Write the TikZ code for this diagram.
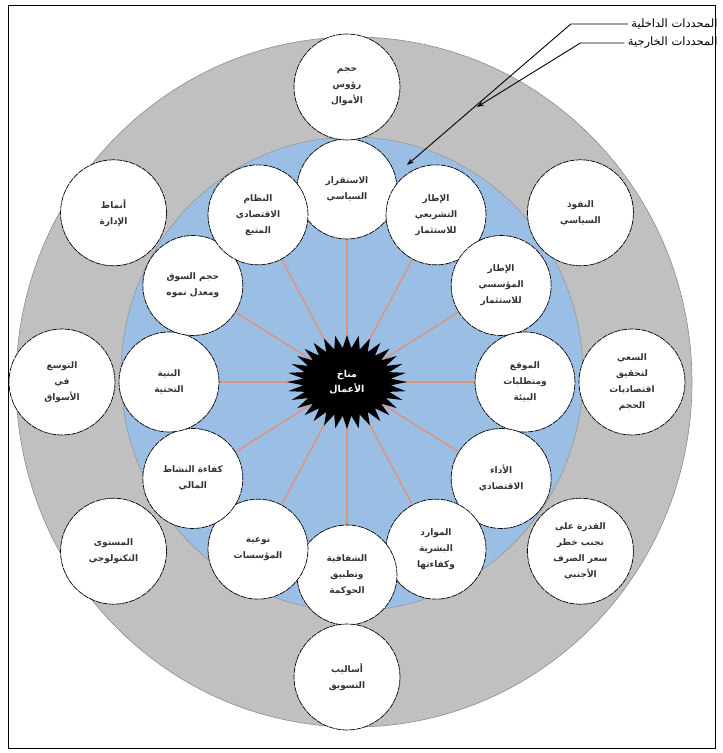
\documentclass[tikz,border=0pt]{standalone}
\usepackage{fontspec}
\newfontfamily\arabicfont[Script=Arabic]{DejaVu Sans}
\TeXXeTstate=1
\usetikzlibrary{arrows.meta,backgrounds}
\newcommand\AR[1]{\beginR #1\endR}
\definecolor{ringgray}{RGB}{192,192,192}
\definecolor{ringblue}{RGB}{155,190,228}
\definecolor{spokecol}{RGB}{226,146,122}
\tikzset{
  factor/.style={circle,draw=black,line width=0.7pt,dash pattern=on 6pt off 0.8pt,
    fill=white,minimum size=100,inner sep=0pt,align=center,text=black!80,
    font={\arabicfont\bfseries\fontsize{9}{16}\selectfont}},
  outfactor/.style={factor,minimum size=106},
  spokeline/.style={draw=spokecol,line width=1.4pt},
  leader/.style={line width=0.9pt,-{Stealth[length=7pt,width=5pt]}}
}

\begin{document}
\begin{tikzpicture}[x=1pt,y=1pt] % investment climate rings

\useasboundingbox (-347,382) rectangle (376,-371);
\def\Rx{178} % inner ring, x radius
\def\Ry{193} % inner ring, y radius
\def\Ox{285} % outer ring
\def\Oy{295}

\begin{scope}[on background layer]
\filldraw[fill=ringgray,draw=black!45,line width=0.6pt] (7,0) ellipse [x radius=338,y radius=345];
\filldraw[fill=ringblue,draw=black!40,line width=0.6pt] (5,8) ellipse [x radius=231,y radius=237];
\end{scope}

% star in the middle
\fill[black] plot[samples at={0,...,63},variable=\k]
  ({cos(\k*5.625)*ifthenelse(mod(\k,2)==0,60,44)},{sin(\k*5.625)*ifthenelse(mod(\k,2)==0,47,34)}) -- cycle;
\node[text=white,align=center,font={\arabicfont\bfseries\fontsize{9.5}{15}\selectfont}] (clim) at (0,0)
  {\AR{مناخ}\\\AR{الأعمال}};

% inner factors
\foreach \a/\t [count=\i] in {
  90/{\AR{الاستقرار}\\\AR{السياسي}},
  60/{\AR{الإطار}\\\AR{التشريعي}\\\AR{للاستثمار}},
  30/{\AR{الإطار}\\\AR{المؤسسي}\\\AR{للاستثمار}},
  0/{\AR{الموقع}\\\AR{ومتطلبات}\\\AR{البيئة}},
  -30/{\AR{الأداء}\\\AR{الاقتصادي}},
  -60/{\AR{الموارد}\\\AR{البشرية}\\\AR{وكفاءتها}},
  -90/{\AR{الشفافية}\\\AR{وتطبيق}\\\AR{الحوكمة}},
  -120/{\AR{نوعية}\\\AR{المؤسسات}},
  -150/{\AR{كفاءة النشاط}\\\AR{المالي}},
  180/{\AR{البنية}\\\AR{التحتية}},
  150/{\AR{حجم السوق}\\\AR{ومعدل نموه}},
  120/{\AR{النظام}\\\AR{الاقتصادي}\\\AR{المتبع}}}
  \node[factor] (in\i) at ({\Rx*cos(\a)},{\Ry*sin(\a)}) {\t};

% outer factors
\foreach \a/\t [count=\i] in {
  90/{\AR{حجم}\\\AR{رؤوس}\\\AR{الأموال}},
  35/{\AR{النفوذ}\\\AR{السياسي}},
  0/{\AR{السعي}\\\AR{لتحقيق}\\\AR{اقتصاديات}\\\AR{الحجم}},
  -35/{\AR{القدرة على}\\\AR{تجنب خطر}\\\AR{سعر الصرف}\\\AR{الأجنبي}},
  -90/{\AR{أساليب}\\\AR{التسويق}},
  -145/{\AR{المستوى}\\\AR{التكنولوجي}},
  180/{\AR{التوسع}\\\AR{في}\\\AR{الأسواق}},
  145/{\AR{أنماط}\\\AR{الإدارة}}}
  \node[outfactor] (out\i) at ({\Ox*cos(\a)},{\Oy*sin(\a)}) {\t};

\begin{scope}[on background layer]
\foreach \i in {1,...,12} \draw[spokeline] (clim.center) -- (in\i.center);
\end{scope}

% legend
\node[anchor=east,font={\arabicfont\fontsize{11.5}{14}\selectfont}] (legin) at (374,358) {\AR{المحددات الداخلية}};
\node[anchor=east,font={\arabicfont\fontsize{11.5}{14}\selectfont}] (legout) at (374,339) {\AR{المحددات الخارجية}};
\coordinate (inTip) at (60,217);
\coordinate (outTip) at (130,275);
\draw[leader] (legin.west) -- ++(-57,0) -- (inTip);
\draw[leader] (legout.west) -- ++(-44,0) -- (outTip);

\draw[line width=0.8pt] (-339,377) rectangle (368,-366);

\end{tikzpicture}
\end{document}
